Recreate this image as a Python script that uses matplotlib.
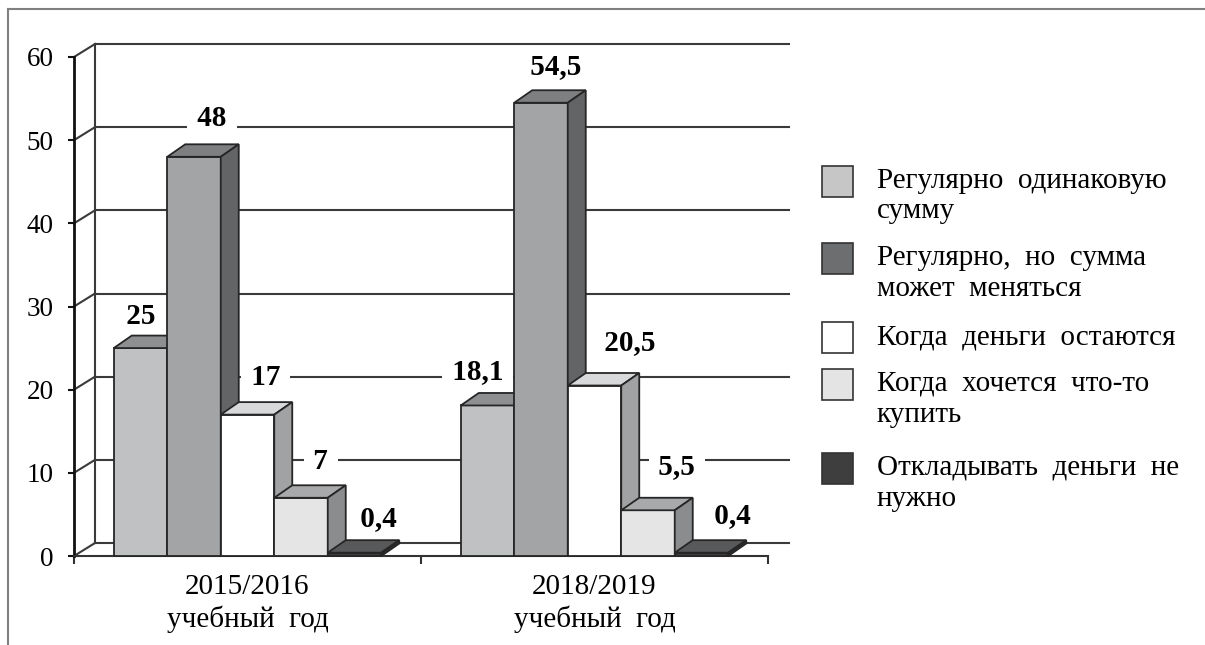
import matplotlib
matplotlib.use('Agg')
import matplotlib.pyplot as plt
from matplotlib.patches import Polygon, Rectangle

# --- data ---
categories = ['2015/2016\nучебный  год', '2018/2019\nучебный  год']
series = ['Регулярно  одинаковую\nсумму',
          'Регулярно,  но  сумма\nможет  меняться',
          'Когда  деньги  остаются',
          'Когда  хочется  что-то\nкупить',
          'Откладывать  деньги  не\nнужно']
values = [[25, 48, 17, 7, 0.4],
          [18.1, 54.5, 20.5, 5.5, 0.4]]
yticks = [0, 10, 20, 30, 40, 50, 60]

# face colours per series: front, top, side
front_c = ['#c0c1c3', '#a3a4a6', '#ffffff', '#e5e5e6', '#3d3d3f']
top_c = ['#8e8f91', '#7e7f81', '#d8d9db', '#a8a9ab', '#58595b']
side_c = ['#77787a', '#636466', '#a1a2a4', '#8b8c8e', '#2b2b2d']
legend_c = ['#c6c6c6', '#6d6e70', '#ffffff', '#e4e4e4', '#3e3e3e']

# hand placed value labels (pixel offsets from the centre of the back face top)
lab_dx = [[-18, 0, 0, 2, 6], [-28, -3, 17, 11, 13]]
lab_dy = [[19, 26, 25, 24, 22], [21, 24, 30, 31, 25]]

W, H = 1205, 645
plt.rcParams['font.family'] = ['Liberation Serif', 'DejaVu Serif']
fig = plt.figure(figsize=(W / 100, H / 100), dpi=100)

x_px0, x_px1 = 74, 768
y_px0, y_px1 = 556, 57
ax = fig.add_axes([x_px0 / W, (H - y_px0) / H, (x_px1 - x_px0) / W, (y_px0 - y_px1) / H])
ax.set_xlim(0, len(categories))
ax.set_ylim(0, 60)
ax.patch.set_visible(False)

px_x = (x_px1 - x_px0) / len(categories)   # pixels per category
px_y = (y_px0 - y_px1) / 60.0              # pixels per unit
wx, wy = 21 / px_x, 13 / px_y              # wall depth
bx, by = 18 / px_x, 12.5 / px_y            # bar depth
bw = 53.5 / px_x
gap = (1 - len(series) * bw) / 2

line_c = '#3a3a3a'
# back wall grid + left wall
for v in yticks:
    ax.plot([wx, len(categories) + wx], [v + wy, v + wy], color=line_c, lw=1.5, zorder=1, clip_on=False)
    ax.plot([0, wx], [v, v + wy], color=line_c, lw=1.5, zorder=1, clip_on=False)
ax.plot([wx, wx], [wy, 60 + wy], color=line_c, lw=1.5, zorder=1, clip_on=False)

# bars
ec = '#262626'
z = 3
for i, grp in enumerate(values):
    for j, v in enumerate(grp):
        x0 = i + gap + j * bw
        ax.add_patch(Rectangle((x0, 0), bw, v, fc=front_c[j], ec=ec, lw=1.3, zorder=z, clip_on=False))
        ax.add_patch(Polygon([(x0, v), (x0 + bw, v), (x0 + bw + bx, v + by), (x0 + bx, v + by)],
                             closed=True, fc=top_c[j], ec=ec, lw=1.3, zorder=z, clip_on=False))
        ax.add_patch(Polygon([(x0 + bw, 0), (x0 + bw + bx, by), (x0 + bw + bx, v + by), (x0 + bw, v)],
                             closed=True, fc=side_c[j], ec=ec, lw=1.3, zorder=z, clip_on=False))
        z += 1
        txt = ' ' + ('%g' % v).replace('.', ',') + ' '
        # labels sit above the grid but under the bars; spaces widen the white box
        ax.annotate(txt, xy=(x0 + bx + bw / 2, v + by), xytext=(lab_dx[i][j], lab_dy[i][j]),
                    textcoords='offset pixels', ha='center', va='center',
                    fontsize=21, fontweight='bold', zorder=2,
                    bbox=dict(boxstyle='square,pad=0.1', fc='white', ec='none'))

# axes
for s in ['top', 'right']:
    ax.spines[s].set_visible(False)
ax.spines['left'].set_linewidth(2)
ax.spines['bottom'].set_linewidth(1.5)
ax.spines['left'].set_color('#111111')
ax.spines['bottom'].set_color('#333333')
ax.set_yticks(yticks)
ax.set_yticklabels([str(t) for t in yticks], fontsize=19.5)
ax.tick_params(axis='y', length=4.5, width=1.5, pad=10, color='#111111')
ax.set_xticks(range(len(categories) + 1))
ax.set_xticklabels([])
ax.tick_params(axis='x', which='major', length=6, width=1.5, color='#333333')
ax.set_xticks([i + 0.5 for i in range(len(categories))], minor=True)
ax.set_xticklabels(categories, minor=True, fontsize=21, linespacing=1.25)
ax.tick_params(axis='x', which='minor', length=0, pad=13)

# overlay in pixel coordinates: frame and legend
ov = fig.add_axes([0, 0, 1, 1])
ov.set_xlim(0, W)
ov.set_ylim(H, 0)
ov.axis('off')
ov.plot([8, W], [9, 9], color='#808080', lw=1.5)
ov.plot([8, 8], [9, H], color='#808080', lw=1.5)

leg_y = [181, 258, 337, 384, 468]
for k, name in enumerate(series):
    yc = leg_y[k]
    ov.add_patch(Rectangle((822, yc - 15.5), 31, 31, fc=legend_c[k], ec='#333333', lw=1.2))
    for n, line in enumerate(name.split('\n')):
        ov.text(877, yc + n * 30.5, line, fontsize=21, va='center', ha='left')

fig.savefig('out.png', dpi=100)
